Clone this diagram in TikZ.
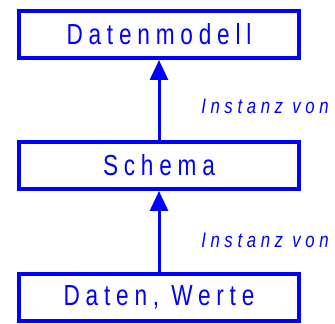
\documentclass[tikz,border=0pt]{standalone}
\usepackage{fontspec}
\setmainfont{Liberation Sans}
\newfontfamily\boxfont[FakeStretch=0.78,LetterSpace=20]{Liberation Sans}
\newfontfamily\labelfont[FakeStretch=0.8,LetterSpace=22,ItalicFont={Liberation Sans Italic}]{Liberation Sans}
\usetikzlibrary{arrows.meta}
\definecolor{dblue}{RGB}{0,0,255}
\tikzset{
  levelbox/.style={draw=dblue, line width=4pt, minimum width=280pt, minimum height=47pt,
    inner sep=0pt, text=dblue, font=\boxfont\fontsize{29}{31}\selectfont},
  instarrow/.style={draw=dblue, line width=3pt, -{Triangle[length=20pt,width=18pt]}},
  instlabel/.style={text=dblue, font=\labelfont\itshape\fontsize{21}{23}\selectfont, inner sep=0pt}
}
\begin{document}
\begin{tikzpicture}[x=1pt,y=1pt]
  \useasboundingbox (0,0) rectangle (335,324);
  \node[levelbox] (modell) at (159,289.5) {Datenmodell};
  \node[levelbox] (schema) at (159,158.5) {Schema};
  \node[levelbox] (daten) at (159,26.5) {Daten, Werte};
  \draw[instarrow] (schema.north) -- (modell.south);
  \draw[instarrow] (daten.north) -- (schema.south);
  \node[instlabel] (l1) at (265,218) {Instanz von};
  \node[instlabel] (l2) at (265,84) {Instanz von};
\end{tikzpicture}
\end{document}
